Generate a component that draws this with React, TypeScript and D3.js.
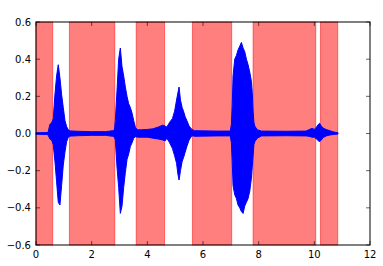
import React from "react";
import * as d3 from "d3";

const spanStarts = [0, 1.2, 3.6, 5.62, 7.8, 10.22];
const spanEnds = [0.6, 2.83, 4.62, 7.03, 10.05, 10.84];

const envTime = [0.0, 0.4, 0.44, 0.5, 0.56, 0.62, 0.68, 0.74, 0.8, 0.86, 0.92, 0.98, 1.04, 1.1, 1.16, 1.22, 1.5, 2.0, 2.5, 2.75, 2.82, 2.85, 2.91, 2.97, 3.03, 3.09, 3.15, 3.21, 3.27, 3.33, 3.39, 3.45, 3.51, 3.57, 3.65, 3.8, 4.0, 4.2, 4.4, 4.55, 4.64, 4.7, 4.8, 4.9, 4.98, 5.05, 5.1, 5.14, 5.19, 5.25, 5.3, 5.36, 5.42, 5.5, 5.6, 5.7, 6.5, 6.98, 7.02, 7.05, 7.08, 7.14, 7.2, 7.26, 7.32, 7.38, 7.44, 7.5, 7.56, 7.62, 7.68, 7.74, 7.77, 7.8, 7.83, 7.86, 7.95, 8.1, 9.0, 9.7, 9.8, 9.92, 10.0, 10.08, 10.15, 10.19, 10.25, 10.33, 10.45, 10.56, 10.7, 10.85];
const envUpper = [0.004, 0.005, 0.01, 0.05, 0.056, 0.08, 0.21, 0.31, 0.37, 0.3, 0.21, 0.14, 0.07, 0.037, 0.02, 0.014, 0.012, 0.01, 0.01, 0.015, 0.02, 0.07, 0.23, 0.4, 0.46, 0.36, 0.31, 0.25, 0.2, 0.16, 0.14, 0.11, 0.07, 0.033, 0.02, 0.02, 0.022, 0.025, 0.035, 0.045, 0.04, 0.035, 0.06, 0.08, 0.12, 0.18, 0.22, 0.25, 0.18, 0.14, 0.12, 0.09, 0.07, 0.04, 0.022, 0.015, 0.013, 0.013, 0.05, 0.15, 0.31, 0.4, 0.42, 0.45, 0.47, 0.49, 0.46, 0.44, 0.4, 0.37, 0.33, 0.28, 0.22, 0.12, 0.06, 0.04, 0.02, 0.013, 0.012, 0.013, 0.02, 0.028, 0.022, 0.035, 0.05, 0.055, 0.04, 0.028, 0.02, 0.015, 0.008, 0.004];
const envLower = [-0.004, -0.005, -0.01, -0.03, -0.035, -0.06, -0.15, -0.26, -0.37, -0.385, -0.28, -0.17, -0.1, -0.044, -0.02, -0.014, -0.012, -0.01, -0.01, -0.015, -0.02, -0.035, -0.18, -0.29, -0.43, -0.39, -0.29, -0.21, -0.14, -0.11, -0.07, -0.05, -0.026, -0.017, -0.02, -0.02, -0.02, -0.025, -0.03, -0.035, -0.04, -0.025, -0.05, -0.08, -0.12, -0.16, -0.22, -0.25, -0.2, -0.15, -0.13, -0.1, -0.07, -0.035, -0.012, -0.015, -0.013, -0.013, -0.05, -0.15, -0.28, -0.33, -0.35, -0.385, -0.4, -0.42, -0.43, -0.39, -0.37, -0.35, -0.31, -0.24, -0.18, -0.12, -0.06, -0.044, -0.025, -0.013, -0.012, -0.013, -0.015, -0.02, -0.02, -0.03, -0.04, -0.044, -0.035, -0.02, -0.012, -0.008, -0.005, -0.003];

const xTicks = [0, 2, 4, 6, 8, 10, 12];
const yTicks = [-0.6, -0.4, -0.2, 0.0, 0.2, 0.4, 0.6];

const W = 383, H = 266;
const L = 36, R = 370, T = 22, B = 245;

export default function App() {
  const x = d3.scaleLinear().domain([0, 12]).range([L, R]);
  const y = d3.scaleLinear().domain([-0.6, 0.6]).range([B, T]);
  const pts = envTime.map((t, i) => ({ t, u: envUpper[i], l: envLower[i] }));
  const area = d3.area<any>().x(d => x(d.t)).y0(d => y(d.l)).y1(d => y(d.u));
  const fmt = (v: number) => (v < 0 ? "\u2212" : "") + Math.abs(v).toFixed(1);
  const font = "DejaVu Sans, sans-serif";
  return (
    <svg width={W} height={H} style={{ position: "absolute", left: 0, top: 0, background: "#fff" }}>
      <rect x={0} y={0} width={W} height={H} fill="#fff" />
      {spanStarts.map((s, i) => (
        <rect key={i} x={x(s)} y={T} width={x(spanEnds[i]) - x(s)} height={B - T}
          fill="red" fillOpacity={0.5} stroke="red" strokeOpacity={0.5} strokeWidth={1} />
      ))}
      <path d={area(pts) || ""} fill="#0000ff" stroke="#0000ff" strokeWidth={1} strokeLinejoin="round" />
      <rect x={L} y={T} width={R - L} height={B - T} fill="none" stroke="#000" strokeWidth={1} />
      {xTicks.map(v => (
        <g key={"x" + v}>
          <line x1={x(v)} x2={x(v)} y1={B} y2={B - 4} stroke="#000" strokeWidth={0.6} />
          <line x1={x(v)} x2={x(v)} y1={T} y2={T + 4} stroke="#000" strokeWidth={0.6} />
          <text x={x(v)} y={258} textAnchor="middle" fontFamily={font} fontSize={10} fill="#000">{v}</text>
        </g>
      ))}
      {yTicks.map(v => (
        <g key={"y" + v}>
          <line x1={L} x2={L + 4} y1={y(v)} y2={y(v)} stroke="#000" strokeWidth={0.6} />
          <line x1={R} x2={R - 4} y1={y(v)} y2={y(v)} stroke="#000" strokeWidth={0.6} />
          <text x={L - 5} y={y(v) + 3.5} textAnchor="end" fontFamily={font} fontSize={10} fill="#000">{fmt(v)}</text>
        </g>
      ))}
    </svg>
  );
}
